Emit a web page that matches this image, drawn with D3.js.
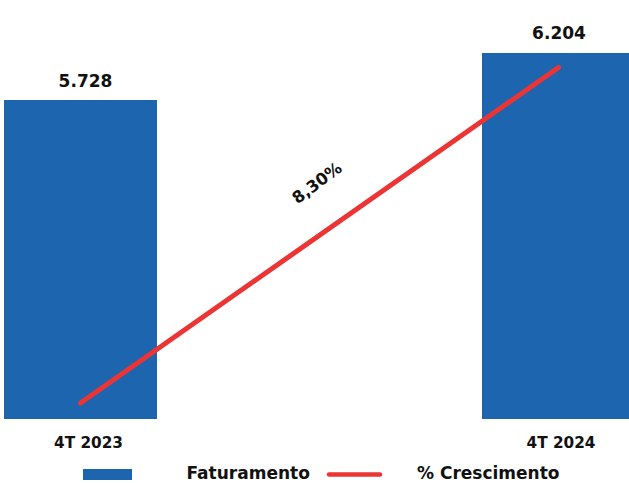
<!DOCTYPE html>
<html>
<head>
<meta charset="utf-8">
<script src="https://cdn.jsdelivr.net/npm/d3@7"></script>
<style>
  html, body { margin: 0; padding: 0; background: #fff; }
  svg { display: block; }
  text { font-family: "DejaVu Sans", Verdana, sans-serif; font-weight: bold; fill: #111; }
</style>
</head>
<body>
<svg id="chart" width="629" height="483"></svg>
<script>
const categories = ["4T 2023", "4T 2024"];
const faturamento = [5.728, 6.204];
const crescimento = [0, 8.30];
const valueLabels = ["5.728", "6.204"];
const growthLabel = "8,30%";
const legendLabels = ["Faturamento", "% Crescimento"];

const W = 629, H = 483;
const svg = d3.select("#chart");
const blue = "#1e65af", red = "#ec3434";

const x = d3.scalePoint().domain(categories).range([80.5, 558.5]);
const barW = 153;
const y = d3.scaleLinear().domain([2.5, 6.74]).range([419, 0]);
const y2 = d3.scaleLinear().domain([-0.396, 9.97]).range([419, 0]);

// bars
svg.selectAll("rect.bar").data(categories).join("rect")
  .attr("class", "bar")
  .attr("x", d => x(d) - barW / 2)
  .attr("width", barW)
  .attr("y", (d, i) => y(faturamento[i]))
  .attr("height", (d, i) => y(2.5) - y(faturamento[i]))
  .attr("fill", blue);

// value labels
svg.selectAll("text.val").data(categories).join("text")
  .attr("class", "val")
  .attr("x", (d, i) => x(d) + (i === 0 ? 5 : 0.5))
  .attr("y", (d, i) => y(faturamento[i]) - 13.5)
  .attr("text-anchor", "middle")
  .attr("font-size", 17)
  .text((d, i) => valueLabels[i]);

// category labels
svg.selectAll("text.cat").data(categories).join("text")
  .attr("class", "cat")
  .attr("x", (d, i) => x(d) + (i === 0 ? 8 : 2.5))
  .attr("y", 448)
  .attr("text-anchor", "middle")
  .attr("font-size", 15.3)
  .text(d => d);

// line
const line = d3.line().x((d, i) => x(categories[i])).y(d => y2(d));
svg.append("path")
  .datum(crescimento)
  .attr("d", line)
  .attr("fill", "none")
  .attr("stroke", red)
  .attr("stroke-width", 5)
  .attr("stroke-linecap", "round");

// growth label
svg.append("text")
  .attr("transform", "translate(317,183) rotate(-37)")
  .attr("text-anchor", "middle")
  .attr("dominant-baseline", "central")
  .attr("font-size", 16.4)
  .text(growthLabel);

// legend
const lg = svg.append("g");
lg.append("rect").attr("x", 83).attr("y", 469).attr("width", 49).attr("height", 11).attr("fill", blue);
lg.append("text").attr("x", 186.5).attr("y", 478.5).attr("font-size", 17).text(legendLabels[0]);
lg.append("line").attr("x1", 329).attr("x2", 380).attr("y1", 474.5).attr("y2", 474.5)
  .attr("stroke", red).attr("stroke-width", 4.5).attr("stroke-linecap", "round");
lg.append("text").attr("x", 417).attr("y", 478.5).attr("font-size", 17).text(legendLabels[1]);
</script>
</body>
</html>
